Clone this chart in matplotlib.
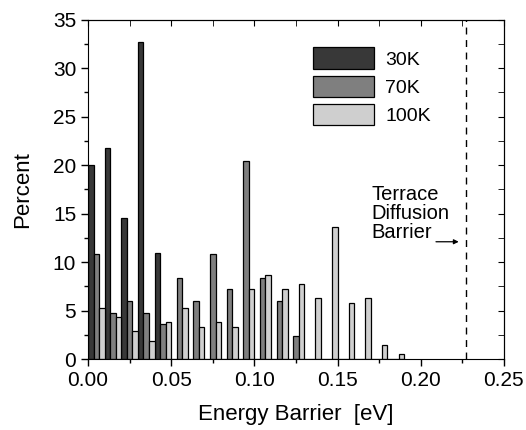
import matplotlib
matplotlib.use('Agg')
import matplotlib.pyplot as plt
from matplotlib.ticker import MultipleLocator
import numpy as np

plt.rcParams['font.family'] = ['Liberation Sans', 'DejaVu Sans']

# histogram bins (left edges, eV) and percentages per temperature
bins = np.arange(19) * 0.01
p30 = [20.0, 21.8, 14.5, 32.7, 10.9, 0, 0, 0, 0, 0, 0, 0, 0, 0, 0, 0, 0, 0, 0]
p70 = [10.8, 4.8, 6.0, 4.8, 3.6, 8.4, 6.0, 10.8, 7.2, 20.4, 8.4, 6.0, 2.4,
       0, 0, 0, 0, 0, 0]
p100 = [5.3, 4.3, 2.9, 1.9, 3.8, 5.3, 3.3, 3.8, 3.3, 7.2, 8.7, 7.2, 7.7,
        6.3, 13.6, 5.8, 6.3, 1.5, 0.5]
labels = ['30K', '70K', '100K']
colors = ['#383838', '#7f7f7f', '#cfcfcf']
terrace_barrier = 0.227

fig = plt.figure(figsize=(5.26, 4.30), dpi=100)
ax = fig.add_axes([0.1673, 0.165, 0.7907, 0.789])

w = 0.01 / 3
for k, (vals, lab, c) in enumerate(zip([p30, p70, p100], labels, colors)):
    ax.bar(bins + k * w, vals, width=w, align='edge', color=c,
           edgecolor='black', linewidth=0.9, label=lab)

ax.axvline(terrace_barrier, color='black', lw=1, ls=(0, (5, 4)))
ax.annotate('', xy=(0.2245, 12.1), xytext=(0.2075, 12.1),
            arrowprops=dict(arrowstyle='-|>', color='black', lw=0.9,
                            mutation_scale=7))
ax.text(0.1705, 15.0, 'Terrace\nDiffusion\nBarrier', fontsize=14.5,
        ha='left', va='center', linespacing=1.02)

ax.set_xlim(0, 0.25)
ax.set_ylim(0, 35)
ax.xaxis.set_major_locator(MultipleLocator(0.05))
ax.xaxis.set_minor_locator(MultipleLocator(0.025))
ax.yaxis.set_major_locator(MultipleLocator(5))
ax.yaxis.set_minor_locator(MultipleLocator(2.5))
ax.xaxis.set_major_formatter(matplotlib.ticker.FormatStrFormatter('%.2f'))
ax.tick_params(which='major', direction='out', length=5, width=1, labelsize=15)
ax.tick_params(which='minor', direction='out', length=3, width=1)

# inward ticks on top and right
top = ax.secondary_xaxis('top')
top.xaxis.set_major_locator(MultipleLocator(0.05))
top.xaxis.set_minor_locator(MultipleLocator(0.025))
top.tick_params(which='both', direction='in', length=4, labeltop=False)
right = ax.secondary_yaxis('right')
right.yaxis.set_major_locator(MultipleLocator(5))
right.yaxis.set_minor_locator(MultipleLocator(2.5))
right.tick_params(which='both', direction='in', length=4, labelright=False)

ax.set_xlabel('Energy Barrier  [eV]', fontsize=16, labelpad=10)
ax.set_ylabel('Percent', fontsize=16, labelpad=14)

ax.legend(loc='upper left', bbox_to_anchor=(0.50, 0.97), frameon=False,
          fontsize=14, handlelength=3.1, handleheight=1.3, handletextpad=0.6,
          labelspacing=0.37)

plt.savefig('out.png', dpi=100)
